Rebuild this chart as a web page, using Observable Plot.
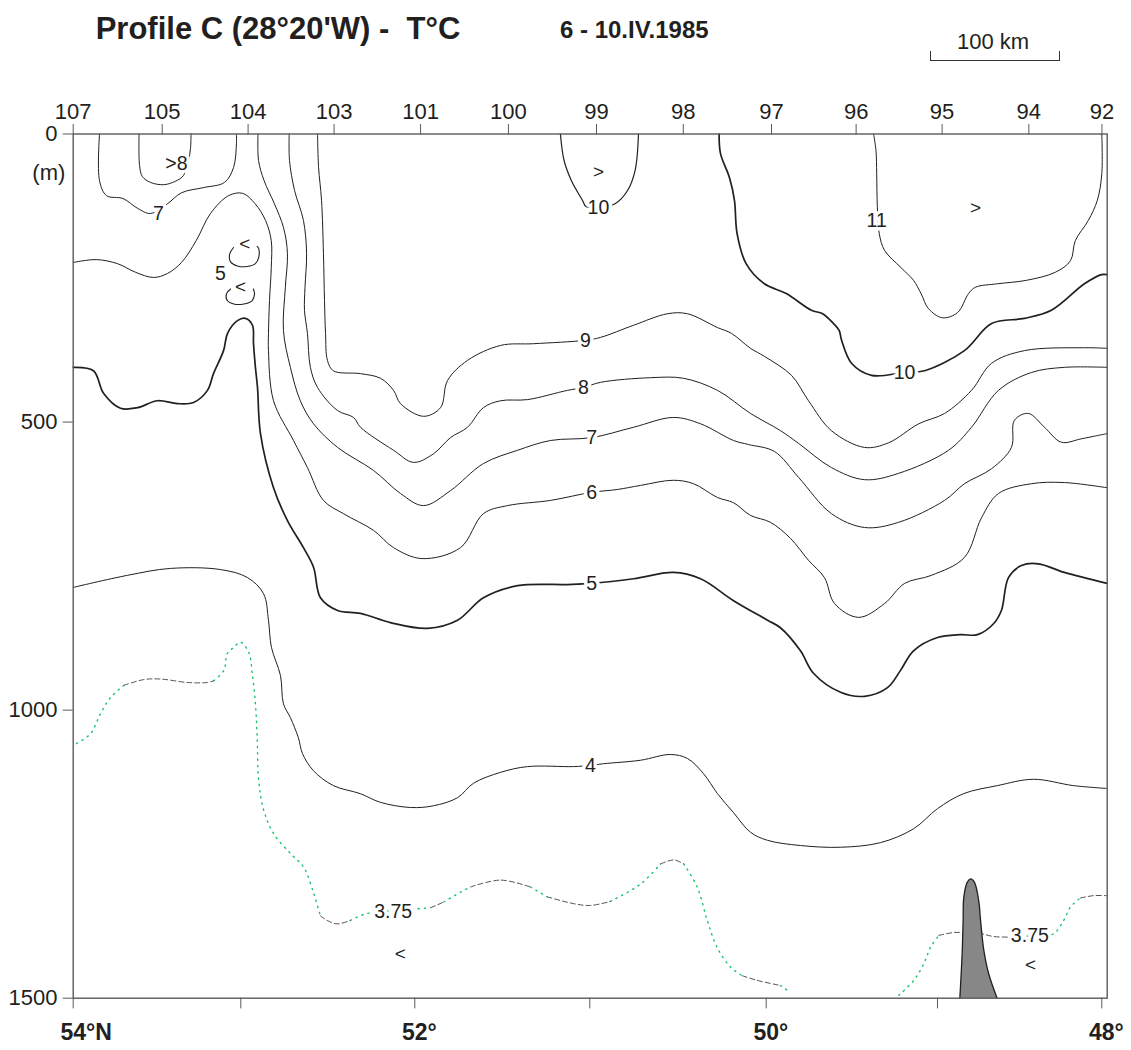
<!DOCTYPE html>
<html><head><meta charset="utf-8">
<script src="https://cdn.jsdelivr.net/npm/d3@7"></script>
<script src="https://cdn.jsdelivr.net/npm/@observablehq/plot@0.6"></script>
<style>
body{margin:0;background:#fff;font-family:"Liberation Sans",Arial,sans-serif;color:#231f20;}
#page{position:relative;width:1131px;height:1050px;}
#header{position:relative;width:1131px;height:70px;}
.t{position:absolute;white-space:nowrap;}
</style></head><body>
<div id="page">
<div id="header">
 <div class="t" style="left:95.7px;top:12.8px;font-size:31px;line-height:31px;font-weight:bold;">Profile C (28°20'W) -&nbsp; T°C</div>
 <div class="t" style="left:560px;top:17.7px;font-size:24px;line-height:24px;font-weight:bold;">6 - 10.IV.1985</div>
 <div class="t" style="left:893px;width:200px;text-align:center;top:31px;font-size:22px;line-height:22px;">100 km</div>
 <div style="position:absolute;left:929.6px;top:51px;width:128px;height:8.5px;border:1.3px solid #333;border-top:none;"></div>
</div>
<div id="chart"></div>
</div>
<script>
// ---- data (latitude °N, depth m) ----
const stationNames = ["107","105","104","103","101","100","99","98","97","96","95","94","92"];
const stationLat = [54.0,53.469,52.958,52.464,51.967,51.465,50.962,50.470,49.969,49.475,48.972,48.444,47.999];
const latTicks = [54,53,52,51,50,49,48];
const latLabelValues = [54,52,50,48];
const latLabelTexts = ["54°N","52°","50°","48°"];
const depthTicks = [0,500,1000,1500];

const iso11 = [[49.373,0],[49.359,29],[49.355,69],[49.351,128],[49.340,173],[49.309,202],[49.213,232],[49.140,254],[49.096,277],[49.053,303],[48.970,319],[48.878,310],[48.811,277],[48.769,266],[48.635,260],[48.459,254],[48.283,240],[48.191,220],[48.161,185],[48.082,150],[48.027,115],[48.000,69],[48.000,0]];
const iso10a = [[51.168,0],[51.147,46],[51.105,81],[51.042,115],[51.022,126],[50.960,128],[50.857,121],[50.786,98],[50.743,63],[50.724,0]];
const iso10b = [[50.267,0],[50.259,34],[50.208,76],[50.180,115],[50.165,173],[50.114,225],[50.010,260],[49.883,277],[49.736,306],[49.671,312],[49.607,329],[49.574,341],[49.560,358],[49.502,398],[49.385,419],[49.192,414],[49.075,411],[48.836,376],[48.671,329],[48.471,320],[48.307,306],[48.106,260],[48.002,244],[47.967,244]];
const iso9 = [[52.559,0],[52.553,58],[52.536,115],[52.525,207],[52.519,289],[52.513,346],[52.502,393],[52.468,411],[52.312,416],[52.197,424],[52.122,445],[52.082,468],[51.950,490],[51.853,475],[51.813,428],[51.699,393],[51.510,367],[51.322,364],[51.025,358],[50.939,353],[50.752,332],[50.560,312],[50.446,312],[50.276,336],[50.197,346],[50.089,372],[50.010,386],[49.852,419],[49.753,463],[49.619,515],[49.426,544],[49.286,536],[49.110,503],[48.957,485],[48.793,445],[48.671,398],[48.471,376],[48.106,371],[47.967,372]];
const iso8loop = [[53.607,0],[53.604,55],[53.587,74],[53.539,84],[53.461,88],[53.390,82],[53.342,72],[53.312,46],[53.300,25],[53.297,0]];
const iso8 = [[52.722,0],[52.720,46],[52.691,98],[52.640,150],[52.622,207],[52.631,266],[52.634,306],[52.617,346],[52.600,405],[52.559,440],[52.444,480],[52.352,492],[52.312,509],[52.122,549],[52.007,570],[51.893,555],[51.796,527],[51.699,509],[51.608,475],[51.510,463],[51.356,461],[51.128,445],[51.036,440],[50.939,431],[50.656,423],[50.469,424],[50.276,445],[50.089,485],[49.916,515],[49.811,537],[49.619,579],[49.426,600],[49.227,589],[48.933,549],[48.793,509],[48.629,445],[48.429,414],[48.228,405],[47.967,405]];
const iso7a = [[53.843,0],[53.843,81],[53.801,107],[53.703,112],[53.616,129],[53.539,138],[53.437,121],[53.354,102],[53.222,93],[53.097,84],[53.043,58],[53.026,16],[53.026,0]];
const iso7b = [[52.901,0],[52.898,46],[52.866,81],[52.807,121],[52.755,162],[52.732,207],[52.744,266],[52.755,341],[52.715,405],[52.658,463],[52.582,503],[52.444,544],[52.237,584],[52.082,624],[51.950,645],[51.796,619],[51.608,572],[51.413,549],[51.225,532],[50.990,527],[50.752,509],[50.526,492],[50.372,503],[50.185,532],[50.100,539],[49.952,551],[49.811,596],[49.619,659],[49.426,683],[49.227,674],[48.957,636],[48.836,607],[48.671,581],[48.550,544],[48.532,497],[48.447,485],[48.349,509],[48.246,535],[48.124,529],[47.967,520]];
const iso6 = [[54.0,223],[53.863,218],[53.736,225],[53.628,240],[53.521,249],[53.437,242],[53.354,223],[53.266,185],[53.181,138],[53.073,107],[52.990,103],[52.918,121],[52.858,150],[52.825,185],[52.825,232],[52.835,289],[52.841,346],[52.841,376],[52.812,463],[52.697,532],[52.617,579],[52.525,636],[52.410,659],[52.237,688],[52.122,718],[51.958,737],[51.739,718],[51.608,659],[51.470,645],[51.225,636],[50.990,622],[50.843,617],[50.713,610],[50.526,601],[50.412,607],[50.276,631],[50.185,640],[50.089,662],[49.975,674],[49.858,702],[49.753,740],[49.660,770],[49.601,815],[49.461,839],[49.309,815],[49.192,780],[49.035,766],[48.836,735],[48.732,666],[48.629,624],[48.429,607],[48.228,605],[47.967,614]];
const iso5loopA = [[53.043,197],[53.066,208],[53.061,222],[53.021,229],[52.963,230],[52.916,225],[52.897,214],[52.897,199],[52.906,195]];
const iso5loopB = [[53.061,269],[53.085,277],[53.081,289],[53.042,295],[52.983,295],[52.934,289],[52.921,277],[52.928,269]];
const iso5 = [[54.0,405],[53.879,411],[53.819,450],[53.718,476],[53.616,475],[53.497,463],[53.378,468],[53.282,466],[53.199,445],[53.163,416],[53.103,376],[53.079,346],[53.020,324],[52.973,320],[52.933,332],[52.927,364],[52.916,405],[52.904,440],[52.887,520],[52.812,614],[52.732,671],[52.640,718],[52.582,752],[52.542,805],[52.444,827],[52.312,832],[52.140,848],[51.927,858],[51.756,844],[51.608,805],[51.413,784],[51.128,782],[50.990,780],[50.752,772],[50.526,761],[50.372,772],[50.185,810],[49.992,844],[49.917,857],[49.800,897],[49.724,936],[49.566,969],[49.426,976],[49.292,961],[49.216,931],[49.140,897],[49.0,874],[48.860,869],[48.757,869],[48.659,850],[48.611,827],[48.568,770],[48.489,749],[48.386,746],[48.228,761],[47.967,780]];
const iso4 = [[54.0,787],[53.676,766],[53.419,754],[53.121,756],[52.961,770],[52.869,798],[52.841,844],[52.824,891],[52.772,940],[52.755,989],[52.715,1013],[52.669,1048],[52.646,1075],[52.583,1105],[52.468,1131],[52.313,1145],[52.198,1160],[52.025,1169],[51.893,1166],[51.756,1152],[51.665,1127],[51.510,1108],[51.356,1098],[51.093,1098],[50.996,1096],[50.922,1093],[50.713,1087],[50.543,1077],[50.446,1084],[50.356,1110],[50.276,1145],[50.185,1178],[50.089,1212],[49.992,1226],[49.800,1235],[49.566,1238],[49.333,1230],[49.140,1206],[49.0,1171],[48.842,1145],[48.635,1131],[48.416,1120],[48.173,1131],[47.967,1136]];
// 3.75 °C isotherm: dashed and dotted pieces
const iso375Dashed = [
 [[53.698,957],[53.579,947],[53.479,946],[53.320,952],[53.200,952],[53.161,949]],
 [[52.543,1357],[52.504,1365],[52.447,1371],[52.370,1365]],
 [[51.910,1343],[51.834,1333]],
 [[51.682,1307],[51.510,1295],[51.339,1307]],
 [[51.244,1324],[51.091,1336],[50.996,1339],[50.883,1332]],
 [[50.599,1267],[50.524,1260],[50.467,1267]],
 [[50.136,1461],[50.051,1469],[49.917,1478]],
 [[48.992,1391],[48.901,1386],[48.844,1386],[48.738,1388],[48.657,1393],[48.556,1394],[48.495,1394]],
 [[48.130,1326],[48.049,1322],[47.967,1322]]
];
const iso375Dotted = [
 [[53.980,1058],[53.897,1041],[53.837,1006],[53.777,978],[53.698,957]],
 [[53.161,949],[53.101,931],[53.081,902],[53.042,891],[53.002,882],[52.954,900],[52.934,937],[52.916,989],[52.906,1047],[52.897,1122],[52.868,1174],[52.810,1215],[52.714,1249],[52.638,1273],[52.580,1319],[52.543,1357]],
 [[52.370,1365],[52.274,1353],[52.124,1348],[51.990,1345],[51.910,1343]],
 [[51.834,1333],[51.739,1316],[51.682,1307]],
 [[51.339,1307],[51.244,1324]],
 [[50.883,1332],[50.713,1302],[50.599,1267]],
 [[50.467,1267],[50.391,1307],[50.334,1365],[50.278,1412],[50.202,1446],[50.136,1461]],
 [[49.917,1478],[49.858,1490]],
 [[49.226,1495],[49.138,1469],[49.080,1440],[49.041,1412],[48.992,1391]],
 [[48.495,1394],[48.438,1392],[48.355,1391],[48.292,1388],[48.232,1365],[48.191,1342],[48.130,1326]]
];
const seamount = [[48.864,1500],[48.850,1423],[48.844,1365],[48.840,1325],[48.819,1299],[48.799,1293],[48.775,1299],[48.749,1331],[48.738,1365],[48.718,1417],[48.688,1458],[48.637,1500]];
const labelLat = [51.025,51.036,50.990,50.990,50.990,50.996,49.192,50.951,49.355,53.491,53.384,53.121,52.124,48.438];
const labelDepth = [358,440,527,622,780,1096,414,128,150,138,51,242,1350,1391];
const labelText = ["9","8","7","6","5","4","10","10","11","7",">8","5","3.75","3.75"];
const markLat = [50.951,48.769,52.977,53.002,52.083,48.434];
const markDepth = [65,129,190,265,1423,1443];
const markText = [">",">","<","<","<","<"];

// ---- build ----
const ink = "#231f20";
const axisGray = "#5a5a5a";
const stationLabel = new Map(stationLat.map((d,i)=>[d, stationNames[i]]));
const latLabel = new Map(latLabelValues.map((d,i)=>[d, latLabelTexts[i]]));
const flatten = (segs) => segs.flatMap((s,k)=>s.map(p=>({lat:p[0], depth:p[1], seg:k})));
const labels = labelText.map((t,i)=>({lat:labelLat[i], depth:labelDepth[i], text:t}));
const marks = markText.map((t,i)=>({lat:markLat[i], depth:markDepth[i], text:t}));
const L = (data, w) => Plot.line(data, {x: d=>d[0], y: d=>d[1], stroke: ink, strokeWidth: w, curve: "catmull-rom"});

const chart = Plot.plot({
  width: 1131, height: 980,
  marginLeft: 72.7, marginRight: 24.3, marginTop: 63.5, marginBottom: 52.3,
  style: {fontFamily: "'Liberation Sans', Arial, sans-serif", color: ink, background: "white"},
  x: {type: "linear", domain: [54,53,52,51,50,49,48,47.967], range: [72.7,240.3,414.3,589.3,765.7,937,1101.3,1106.7]},
  y: {domain: [0,1500], reverse: true},
  marks: [
    Plot.line(flatten(iso375Dotted), {x:"lat", y:"depth", z:"seg", stroke:"#17c46a", strokeWidth:1.4, strokeDasharray:"1.3,5", strokeLinecap:"round", curve:"catmull-rom"}),
    Plot.line(flatten(iso375Dashed), {x:"lat", y:"depth", z:"seg", stroke:"#555", strokeWidth:1, strokeDasharray:"5,3", curve:"catmull-rom"}),
    L(iso11, 1), L(iso10a, 1.2), L(iso10b, 1.7), L(iso9, 1), L(iso8loop, 1), L(iso8, 1),
    L(iso7a, 1), L(iso7b, 1), L(iso6, 1), L(iso5loopA, 1.1), L(iso5loopB, 1.1), L(iso5, 1.7), L(iso4, 1),
    Plot.line(seamount, {x: d=>d[0], y: d=>d[1], fill: "#878787", stroke: ink, strokeWidth: 1.3, curve: "catmull-rom"}),
    Plot.text(labels, {x:"lat", y:"depth", text:"text", fontSize: 19.5, fill: ink, stroke: "white", strokeWidth: 7}),
    Plot.text(marks, {x:"lat", y:"depth", text:"text", fontSize: 19, fill: ink}),
    Plot.text(["(m)"], {frameAnchor: "top-left", dx: -24.4, dy: 30.5, textAnchor: "middle", fontSize: 22, fill: ink}),
    Plot.axisX({anchor: "top", ticks: stationLat, tickSize: 10.5, tickPadding: 5, tickFormat: d => stationLabel.get(d), fontSize: 22, stroke: axisGray, fill: ink, label: null}),
    Plot.axisX({anchor: "bottom", ticks: latTicks, tickSize: 10.7, stroke: axisGray, fill: "none", label: null}),
    Plot.axisX({anchor: "bottom", ticks: latLabelValues, tickSize: 0, tickPadding: 25, tickFormat: d => latLabel.get(d), fontSize: 23, fontWeight: "bold", textAnchor: "start", dx: -12.8, fill: ink, label: null}),
    Plot.axisY({anchor: "left", ticks: depthTicks, tickSize: 10, tickPadding: 5.7, tickFormat: d => String(d), fontSize: 22, stroke: axisGray, fill: ink, label: null}),
    Plot.frame({stroke: axisGray, strokeWidth: 1.4})
  ]
});
document.getElementById("chart").appendChild(chart);
</script>
</body></html>
